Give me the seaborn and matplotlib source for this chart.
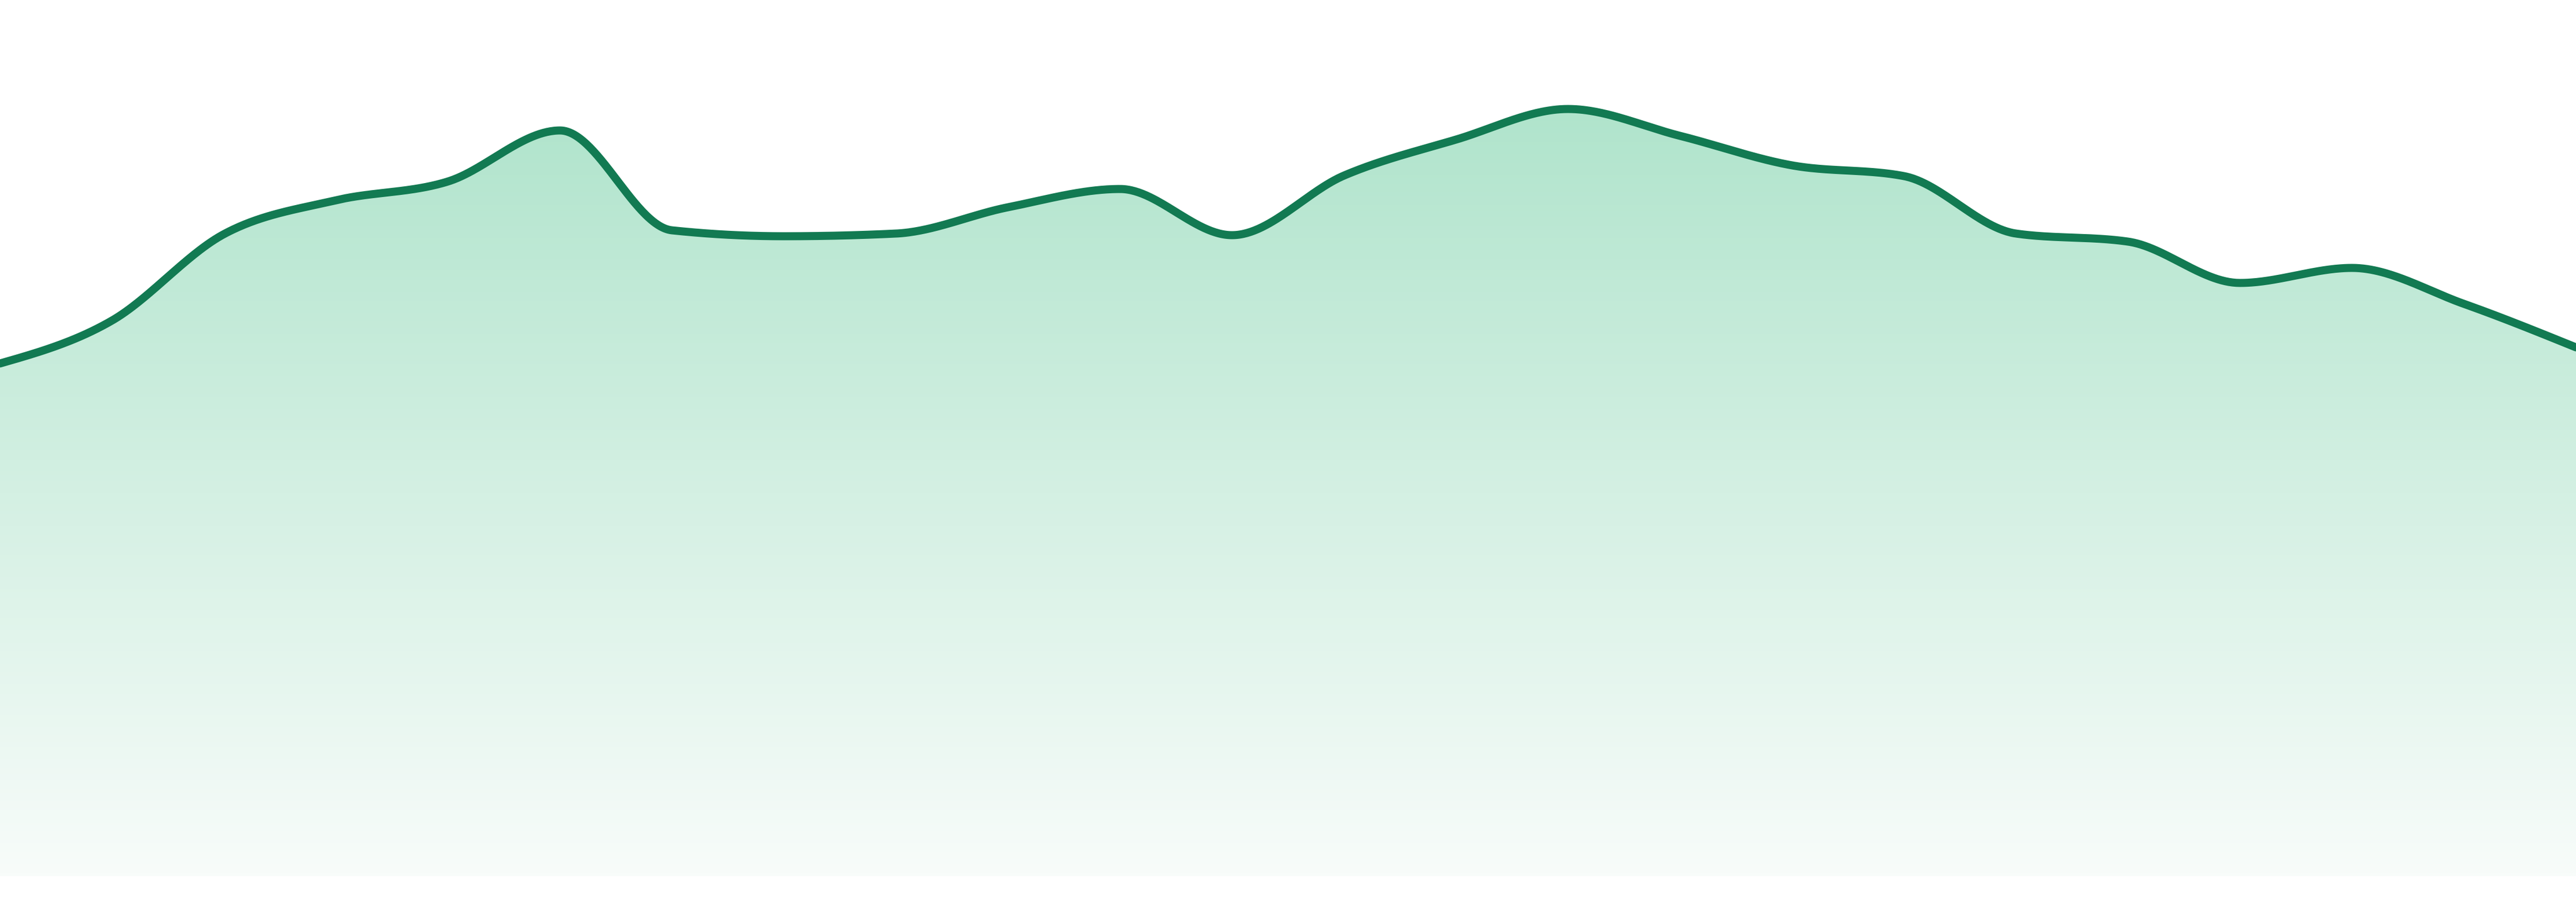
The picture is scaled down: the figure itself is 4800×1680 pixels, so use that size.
import numpy as np
import pandas as pd
import matplotlib
matplotlib.use("Agg")
import matplotlib.pyplot as plt
import seaborn as sns
from matplotlib.colors import LinearSegmentedColormap

sns.set_theme(style="white")

# values (arbitrary units, baseline = 0)
points = list(range(24))
values = [95.5, 103.5, 119.6, 125.9, 129.4, 138.9, 120.3, 119.2, 119.7, 124.6,
          128.0, 119.4, 130.5, 137.2, 142.9, 137.9, 132.4, 130.4, 119.7, 118.2,
          110.5, 113.3, 106.6, 98.5]

LINE = "#127a52"
TOP = "#b0e4cc"
BOTTOM = "#f8fcfa"


def monotone_x(x, y, n=60):
    # d3-style curveMonotoneX
    x = np.asarray(x, float)
    y = np.asarray(y, float)
    h = np.diff(x)
    s = np.diff(y) / h
    m = np.zeros_like(y)
    for i in range(1, len(y) - 1):
        p = (s[i - 1] * h[i] + s[i] * h[i - 1]) / (h[i - 1] + h[i])
        m[i] = (np.sign(s[i - 1]) + np.sign(s[i])) * min(abs(s[i - 1]), abs(s[i]), 0.5 * abs(p))
    m[0] = (3 * s[0] - m[1]) / 2
    m[-1] = (3 * s[-1] - m[-2]) / 2
    xs, ys = [], []
    for i in range(len(y) - 1):
        t = np.linspace(0, 1, n, endpoint=(i == len(y) - 2))
        h00 = 2 * t**3 - 3 * t**2 + 1
        h10 = t**3 - 2 * t**2 + t
        h01 = -2 * t**3 + 3 * t**2
        h11 = t**3 - t**2
        xs.append(x[i] + t * h[i])
        ys.append(h00 * y[i] + h10 * h[i] * m[i] + h01 * y[i + 1] + h11 * h[i] * m[i + 1])
    return np.concatenate(xs), np.concatenate(ys)


sx, sy = monotone_x(points, values)
df = pd.DataFrame({"x": sx, "y": sy})

fig = plt.figure(figsize=(16, 5.6), dpi=300)
ax = fig.add_axes([0, 0, 1, 1])

poly = ax.fill_between(df["x"], df["y"], 0, color="none", lw=0)
cmap = LinearSegmentedColormap.from_list("fade", [BOTTOM, TOP])
grad = np.linspace(0, 1, 256).reshape(-1, 1)
img = ax.imshow(grad, cmap=cmap, aspect="auto", origin="lower",
                extent=[points[0], points[-1], 0, max(values)], zorder=1)
img.set_clip_path(poly.get_paths()[0], ax.transData)

sns.lineplot(data=df, x="x", y="y", ax=ax, color=LINE, linewidth=3.6,
             estimator=None, sort=False, zorder=3)

ax.set_xlim(points[0], points[-1])
ax.set_ylim(-4.8, 163.2)
ax.axis("off")

fig.savefig("out.png", dpi=300, facecolor="white")
